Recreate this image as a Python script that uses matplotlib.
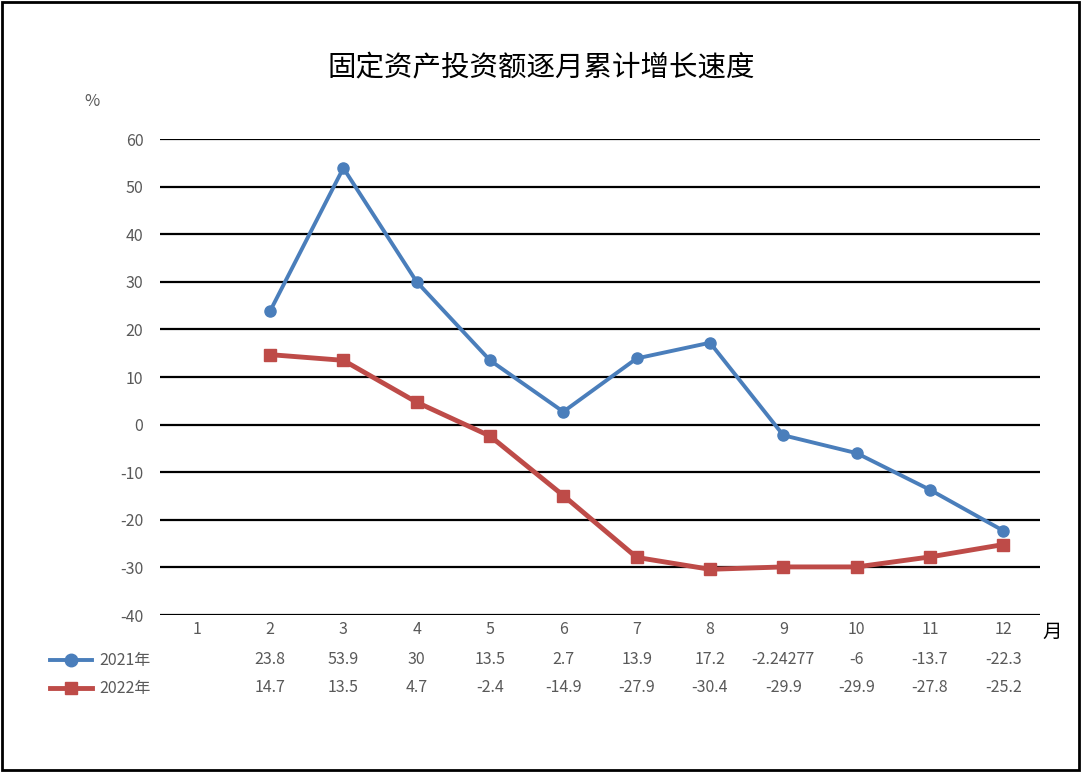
import numpy as np
import matplotlib.pyplot as plt
from matplotlib.patches import Rectangle
from matplotlib.lines import Line2D

plt.rcParams['font.family'] = ['Noto Sans CJK SC', 'DejaVu Sans']
plt.rcParams['axes.unicode_minus'] = False

months = [1, 2, 3, 4, 5, 6, 7, 8, 9, 10, 11, 12]
series_names = ["2021年", "2022年"]
vals_2021 = [np.nan, 23.8, 53.9, 30, 13.5, 2.7, 13.9, 17.2, -2.24277, -6, -13.7, -22.3]
vals_2022 = [np.nan, 14.7, 13.5, 4.7, -2.4, -14.9, -27.9, -30.4, -29.9, -29.9, -27.8, -25.2]
labels_2021 = ["", "23.8", "53.9", "30", "13.5", "2.7", "13.9", "17.2", "-2.24277", "-6", "-13.7", "-22.3"]
labels_2022 = ["", "14.7", "13.5", "4.7", "-2.4", "-14.9", "-27.9", "-30.4", "-29.9", "-29.9", "-27.8", "-25.2"]
yticks = [-40, -30, -20, -10, 0, 10, 20, 30, 40, 50, 60]

blue = "#4a7ebb"
red = "#be4b48"
gray = "#595959"

W, H = 1081, 772
fig = plt.figure(figsize=(W / 100, H / 100), dpi=100)
fig.patches.append(Rectangle((2 / W, 2 / H), 1 - 4 / W, 1 - 4 / H, transform=fig.transFigure,
                             fill=False, edgecolor="black", linewidth=2))

ax = fig.add_axes([160 / W, 1 - 615 / H, 880 / W, 476 / H])
ax.set_xlim(0.5, 12.5)
ax.set_ylim(-40, 60)
for y in yticks:
    ax.axhline(y, color="black", linewidth=1.6, zorder=1)
for s in ax.spines.values():
    s.set_visible(False)
ax.set_yticks(yticks)
ax.set_yticklabels([str(v) for v in yticks])
ax.tick_params(axis="y", length=0, pad=12, labelsize=11.5, labelcolor=gray)
ax.set_xticks([])

ax.plot(months, vals_2021, color=blue, linewidth=2.8, marker="o", markersize=8, zorder=3)
ax.plot(months, vals_2022, color=red, linewidth=3.5, marker="s", markersize=8, zorder=3)

fig.text(541 / W, 1 - 68 / H, "固定资产投资额逐月累计增长速度", ha="center", va="center", fontsize=20.5)
fig.text(92 / W, 1 - 102 / H, "%", ha="center", va="center", fontsize=12, color=gray)

def xpix(m):
    return 160 + (m - 0.5) * 880 / 12

for i, m in enumerate(months):
    x = xpix(m) / W
    fig.text(x, 1 - 630 / H, str(m), ha="center", va="center", fontsize=11.5, color=gray)
    fig.text(x, 1 - 660 / H, labels_2021[i], ha="center", va="center", fontsize=11.5, color=gray)
    fig.text(x, 1 - 688 / H, labels_2022[i], ha="center", va="center", fontsize=11.5, color=gray)
fig.text(1052 / W, 1 - 632 / H, "月", ha="center", va="center", fontsize=14)

for row_y, name, c, mk, lw in [(660, series_names[0], blue, "o", 2.8), (688, series_names[1], red, "s", 3.5)]:
    yy = 1 - row_y / H
    fig.add_artist(Line2D([50 / W, 92 / W], [yy, yy], color=c, linewidth=lw, transform=fig.transFigure))
    fig.add_artist(Line2D([71 / W], [yy], color=c, marker=mk, markersize=9, transform=fig.transFigure))
    fig.text(99 / W, yy, name, ha="left", va="center", fontsize=11.5, color=gray)

fig.savefig("out.png", dpi=100)
